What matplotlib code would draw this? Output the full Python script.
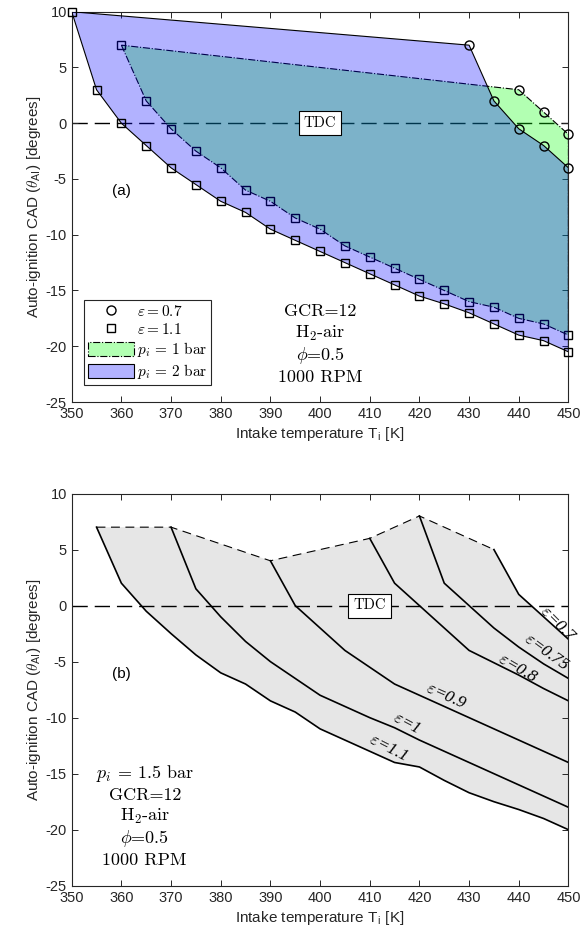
import matplotlib
matplotlib.use("Agg")
import matplotlib.pyplot as plt
from matplotlib.patches import Patch
from matplotlib.lines import Line2D

plt.rcParams['font.family'] = ['Liberation Sans', 'DejaVu Sans']
plt.rcParams['mathtext.fontset'] = 'cm'
plt.rcParams['axes.unicode_minus'] = False

# ---- panel (a): auto-ignition window, p_i = 1 bar and 2 bar
temp_2bar_eps11 = [350, 355, 360, 365, 370, 375, 380, 385, 390, 395, 400,
                   405, 410, 415, 420, 425, 430, 435, 440, 445, 450]
theta_2bar_eps11 = [10, 3, 0, -2, -4, -5.5, -7, -8, -9.5, -10.5, -11.5,
                    -12.5, -13.5, -14.5, -15.5, -16.2, -17, -18, -19, -19.5, -20.5]
temp_2bar_eps07 = [430, 435, 440, 445, 450]
theta_2bar_eps07 = [7, 2, -0.5, -2, -4]

temp_1bar_eps11 = [360, 365, 370, 375, 380, 385, 390, 395, 400, 405,
                   410, 415, 420, 425, 430, 435, 440, 445, 450]
theta_1bar_eps11 = [7, 2, -0.5, -2.5, -4, -6, -7, -8.5, -9.5, -11,
                    -12, -13, -14, -15, -16, -16.5, -17.5, -18, -19]
temp_1bar_eps07 = [440, 445, 450]
theta_1bar_eps07 = [3, 1, -1]

info_a = [r'GCR=12', r'H$_2$-air', r'$\phi$=0.5', r'1000 RPM']

# ---- panel (b): p_i = 1.5 bar, one curve per equivalence ratio
eps_names = [r'$\varepsilon$=1.1', r'$\varepsilon$=1', r'$\varepsilon$=0.9',
             r'$\varepsilon$=0.8', r'$\varepsilon$=0.75', r'$\varepsilon$=0.7']
temp_b = [
    [355, 360, 365, 370, 375, 380, 385, 390, 395, 400, 405, 410, 415, 420, 425, 430, 435, 440, 445, 450],
    [370, 375, 380, 385, 390, 395, 400, 405, 410, 415, 420, 425, 430, 435, 440, 445, 450],
    [390, 395, 400, 405, 410, 415, 420, 425, 430, 435, 440, 445, 450],
    [410, 415, 420, 425, 430, 435, 440, 445, 450],
    [420, 425, 430, 435, 440, 445, 450],
    [435, 440, 445, 450],
]
theta_b = [
    [7, 2, -0.5, -2.5, -4.4, -6, -7, -8.5, -9.5, -11, -12, -13, -14, -14.4, -15.6, -16.7, -17.5, -18.2, -19, -20],
    [7, 1.5, -1, -3.2, -5, -6.5, -8, -9, -10, -10.9, -12, -13, -14, -15, -16, -17, -18],
    [4, 0, -2, -4, -5.5, -7, -8, -9, -10, -11, -12, -13, -14],
    [6, 2, 0, -2, -4, -5.1, -6.2, -7.4, -8.5],
    [8, 2, 0, -2, -3.7, -5.2, -6.5],
    [5, 1, -1, -3],
]
# label placement (T, theta, angle) for each curve name
label_pos = [(413.7, -12.75, -27), (417.4, -10.5, -28), (425.4, -8.1, -24),
             (439.8, -5.6, -30), (445.6, -4.2, -36), (447.9, -1.7, -45)]
info_b = [r'$p_i$ = 1.5 bar', r'GCR=12', r'H$_2$-air', r'$\phi$=0.5', r'1000 RPM']

xticks = [350, 360, 370, 380, 390, 400, 410, 420, 430, 440, 450]
yticks = [-25, -20, -15, -10, -5, 0, 5, 10]

green = (0, 1, 0, 0.3)
blue = (0, 0, 1, 0.3)
serif = ['cmr10', 'DejaVu Serif']

fig = plt.figure(figsize=(5.82, 9.36), dpi=100)
ax1 = fig.add_axes([0.1232, 0.5705, 0.8535, 0.417])
ax2 = fig.add_axes([0.1232, 0.0537, 0.8535, 0.419])


def style_axes(ax):
    ax.set_xlim(350, 450)
    ax.set_ylim(-25, 10)
    ax.set_xticks(xticks)
    ax.set_yticks(yticks)
    ax.tick_params(direction='in', top=True, right=True, length=4.5,
                   width=0.7, labelsize=10.5, colors=(0.15, 0.15, 0.15),
                   labelcolor=(0.15, 0.15, 0.15))
    for s in ax.spines.values():
        s.set_linewidth(0.8)
        s.set_color((0.15, 0.15, 0.15))
    ax.set_xlabel(r'Intake temperature T$_{\mathregular{i}}$ [K]', fontsize=11,
                  color=(0.15, 0.15, 0.15), labelpad=3)
    ax.set_ylabel(r'Auto-ignition CAD ($\theta_{\mathregular{AI}}$) [degrees]',
                  fontsize=11, color=(0.15, 0.15, 0.15), labelpad=2)


# ---------------- panel (a)
ax1.axhline(0, color='k', lw=1.0, ls=(0, (11, 5)), zorder=1)

x1 = temp_1bar_eps11 + temp_1bar_eps07[::-1]
y1 = theta_1bar_eps11 + theta_1bar_eps07[::-1]
ax1.fill(x1, y1, facecolor=green, edgecolor='k', lw=0.8, ls='-.', zorder=2)
ax1.plot(temp_1bar_eps11, theta_1bar_eps11, ls='none', marker='s', ms=5.5,
         mfc='none', mec='k', mew=1.0, clip_on=False, zorder=3)
ax1.plot(temp_1bar_eps07, theta_1bar_eps07, ls='none', marker='o', ms=6.5,
         mfc='none', mec='k', mew=1.0, clip_on=False, zorder=3)

x2 = temp_2bar_eps11 + temp_2bar_eps07[::-1]
y2 = theta_2bar_eps11 + theta_2bar_eps07[::-1]
ax1.fill(x2, y2, facecolor=blue, edgecolor='k', lw=0.8, zorder=4)
ax1.plot(temp_2bar_eps11, theta_2bar_eps11, ls='none', marker='s', ms=5.5,
         mfc='none', mec='k', mew=1.0, clip_on=False, zorder=5)
ax1.plot(temp_2bar_eps07, theta_2bar_eps07, ls='none', marker='o', ms=6.5,
         mfc='none', mec='k', mew=1.0, clip_on=False, zorder=5)

ax1.text(400, 0, 'TDC', family=serif, fontsize=10.5, ha='center', va='center',
         zorder=6, bbox=dict(boxstyle='square,pad=0.35', fc='w', ec='k', lw=0.8))
ax1.text(360, -6.1, '(a)', fontsize=11, ha='center', va='center')
for k, s in enumerate(info_a):
    ax1.text(400, -16.9 - 1.95 * k, s, family=serif, fontsize=13,
             ha='center', va='center')

handles = [
    Line2D([], [], ls='none', marker='o', ms=6.5, mfc='none', mec='k', mew=1.0),
    Line2D([], [], ls='none', marker='s', ms=5.5, mfc='none', mec='k', mew=1.0),
    Patch(facecolor=green, edgecolor='k', lw=0.8, ls='-.'),
    Patch(facecolor=blue, edgecolor='k', lw=0.8),
]
labels = [r'$\varepsilon = 0.7$', r'$\varepsilon = 1.1$',
          r'$p_i\, =\, 1\ \mathrm{bar}$', r'$p_i\, =\, 2\ \mathrm{bar}$']
leg = ax1.legend(handles, labels, loc='lower left', bbox_to_anchor=(0.025, 0.044),
                 borderaxespad=0, fontsize=11, handlelength=3.0, handleheight=1.0,
                 handletextpad=0.2, labelspacing=0.2, borderpad=0.25,
                 fancybox=False, framealpha=1, edgecolor=(0.15, 0.15, 0.15))
leg.get_frame().set_linewidth(0.8)
style_axes(ax1)

# ---------------- panel (b)
top_x = [t[0] for t in temp_b]
top_y = [v[0] for v in theta_b]
poly_x = top_x + temp_b[-1][1:] + temp_b[0][::-1]
poly_y = top_y + theta_b[-1][1:] + theta_b[0][::-1]
ax2.fill(poly_x, poly_y, facecolor=(0.9, 0.9, 0.9), edgecolor='none', zorder=1)
ax2.plot(top_x, top_y, color='k', lw=0.8, ls=(0, (8, 5)), zorder=2)
ax2.axhline(0, color='k', lw=1.0, ls=(0, (11, 5)), zorder=2)
for tx, ty in zip(temp_b, theta_b):
    ax2.plot(tx, ty, color='k', lw=1.2, zorder=3)
for name, (lx, ly, ang) in zip(eps_names, label_pos):
    ax2.text(lx, ly, name, family=['Liberation Serif'], style='italic',
             fontsize=12.5, rotation=ang, rotation_mode='anchor',
             ha='center', va='center', zorder=4)

ax2.text(410, 0, 'TDC', family=serif, fontsize=10.5, ha='center', va='center',
         zorder=6, bbox=dict(boxstyle='square,pad=0.35', fc='w', ec='k', lw=0.8))
ax2.text(360, -6.1, '(b)', fontsize=11, ha='center', va='center')
for k, s in enumerate(info_b):
    ax2.text(364.7, -15.0 - 1.93 * k, s, family=serif, fontsize=13,
             ha='center', va='center')
style_axes(ax2)

fig.savefig('out.png', dpi=100)
